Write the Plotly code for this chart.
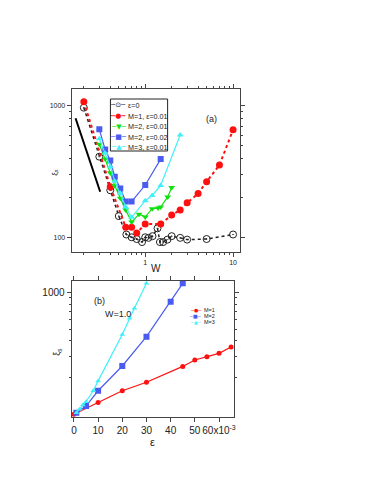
import plotly.graph_objects as go

# ---- panel (a): xi vs W (log-log) ----
w_eps0 = [0.2, 0.3, 0.4, 0.5, 0.61, 0.7, 0.8, 0.92, 1.0, 1.09, 1.21, 1.38, 1.47, 1.6, 1.79, 2.0, 2.5, 3.0, 5.0, 10.0]
xi_eps0 = [970, 411, 228, 145, 105, 100, 97, 92, 100, 99, 102, 117, 92, 92, 96, 102, 99, 96, 97, 105]

w_m1 = [0.2, 0.4, 0.6, 0.7, 0.8, 1.0, 1.5, 2.0, 2.5, 3.0, 4.0, 5.0, 7.0, 10.0]
xi_m1 = [1075, 243, 119, 119, 108, 126, 126, 148, 161, 183, 215, 265, 355, 658]

w_m2a = [0.3, 0.35, 0.4, 0.45, 0.52, 0.6, 0.7, 0.85, 1.0, 1.2, 1.4, 1.5, 1.8, 2.0]
xi_m2a = [511, 394, 310, 247, 198, 161, 131, 150, 143, 165, 167, 170, 203, 239]

w_m2b = [0.3, 0.35, 0.4, 0.45, 0.52, 0.6, 0.7, 1.0, 1.5]
xi_m2b = [664, 465, 385, 289, 235, 187, 187, 250, 394]

w_m3 = [0.3, 0.35, 0.4, 0.45, 0.52, 0.6, 0.7, 1.0, 1.2, 1.5, 2.5]
xi_m3 = [562, 436, 345, 267, 216, 170, 142, 190, 208, 248, 601]

slope_w = [0.161, 0.307]
slope_xi = [806, 222]

# ---- panel (b): xi vs epsilon at W=1.0 ----
eps_m1 = [0, 0.01, 0.02, 0.03, 0.045, 0.05, 0.055, 0.06, 0.065]
xi_b_m1 = [100, 125, 156, 183, 247, 279, 297, 316, 356]

eps_m2 = [0.001, 0.005, 0.01, 0.02, 0.03, 0.04, 0.045]
xi_b_m2 = [103, 117, 156, 249, 433, 837, 1186]

eps_m3 = [0.001, 0.0023, 0.0037, 0.005, 0.008, 0.01, 0.02, 0.023, 0.025, 0.03]
xi_b_m3 = [103, 110, 119, 127, 156, 188, 452, 612, 740, 1186]

eps_ticks = [0, 0.01, 0.02, 0.03, 0.04, 0.05, 0.06]
eps_ticktext = ["0", "10", "20", "30", "40", "50", "60x10<sup>-3</sup>"]

# legend rows
legend_a_labels = ["ε=0", "M=1, ε=0.01", "M=2, ε=0.01", "M=2, ε=0.02", "M=3, ε=0.01"]
legend_b_labels = ["M=1", "M=2", "M=3"]

RED = "#ff1010"
GREEN = "#10e010"
BLUE = "#4a5cf0"
CYAN = "#40f0f8"
BLACK = "#222"
FONT = "Liberation Sans, Arial, sans-serif"
SYMFONT = "DejaVu Sans"

W, H = 382, 494


def px(x):
    return x / W


def py(y):
    return 1 - y / H


fig = go.Figure()

# panel (a)
fig.add_trace(go.Scatter(
    x=slope_w, y=slope_xi, mode="lines", line=dict(color="black", width=2),
    showlegend=False, xaxis="x", yaxis="y"))
fig.add_trace(go.Scatter(
    name=legend_a_labels[0], x=w_eps0, y=xi_eps0, mode="lines+markers",
    line=dict(color=BLACK, width=1.5, dash="dot"),
    marker=dict(symbol="circle-open-dot", size=7, color=BLACK, line=dict(width=1)),
    showlegend=False, xaxis="x", yaxis="y"))
fig.add_trace(go.Scatter(
    name=legend_a_labels[1], x=w_m1, y=xi_m1, mode="lines+markers",
    line=dict(color=RED, width=2, dash="dot"),
    marker=dict(symbol="circle", size=7, color=RED),
    showlegend=False, xaxis="x", yaxis="y"))
fig.add_trace(go.Scatter(
    name=legend_a_labels[2], x=w_m2a, y=xi_m2a, mode="lines+markers",
    line=dict(color=GREEN, width=1.2),
    marker=dict(symbol="triangle-down", size=6, color=GREEN),
    showlegend=False, xaxis="x", yaxis="y"))
fig.add_trace(go.Scatter(
    name=legend_a_labels[3], x=w_m2b, y=xi_m2b, mode="lines+markers",
    line=dict(color=BLUE, width=1.2),
    marker=dict(symbol="square", size=6, color=BLUE),
    showlegend=False, xaxis="x", yaxis="y"))
fig.add_trace(go.Scatter(
    name=legend_a_labels[4], x=w_m3, y=xi_m3, mode="lines+markers",
    line=dict(color=CYAN, width=1.2),
    marker=dict(symbol="triangle-up", size=6, color=CYAN),
    showlegend=False, xaxis="x", yaxis="y"))

# panel (b)
fig.add_trace(go.Scatter(
    name=legend_b_labels[0], x=eps_m1, y=xi_b_m1, mode="lines+markers",
    line=dict(color=RED, width=1.2), marker=dict(symbol="circle", size=5, color=RED),
    showlegend=False, xaxis="x2", yaxis="y2"))
fig.add_trace(go.Scatter(
    name=legend_b_labels[1], x=eps_m2, y=xi_b_m2, mode="lines+markers",
    line=dict(color=BLUE, width=1.2), marker=dict(symbol="square", size=6, color=BLUE),
    showlegend=False, xaxis="x2", yaxis="y2"))
fig.add_trace(go.Scatter(
    name=legend_b_labels[2], x=eps_m3, y=xi_b_m3, mode="lines+markers",
    line=dict(color=CYAN, width=1.2), marker=dict(symbol="triangle-up", size=5, color=CYAN),
    showlegend=False, xaxis="x2", yaxis="y2"))

axis_common = dict(showline=True, linecolor="#444", linewidth=1, mirror="allticks",
                   ticks="outside", tickcolor="#444", showgrid=False, zeroline=False)
minor_common = dict(tickmode="array", ticks="outside", ticklen=2, tickcolor="#444")

annotations = [
    dict(text="(a)", x=px(213), y=py(112), xref="paper", yref="paper",
         showarrow=False, font=dict(size=9)),
    dict(text="slope -2", x=0.212, y=198, xref="x", yref="y", showarrow=False,
         font=dict(size=7)),
    dict(text="W", x=px(157), y=py(268), xref="paper", yref="paper",
         showarrow=False, yanchor="middle", font=dict(size=10)),
    dict(text="ξ<sub>s</sub>", x=px(48), y=py(172), xref="paper", yref="paper",
         showarrow=False, textangle=-90, font=dict(size=8)),
    dict(text="(b)", x=px(92), y=py(301), xref="paper", yref="paper",
         showarrow=False, font=dict(size=9)),
    dict(text="W=1.0", x=px(104), y=py(314), xref="paper", yref="paper",
         showarrow=False, font=dict(size=9)),
    dict(text="ε", x=px(153), y=py(442), xref="paper", yref="paper",
         showarrow=False, yanchor="middle", font=dict(size=11)),
    dict(text="ξ<sub>s</sub>", x=px(50), y=py(358), xref="paper", yref="paper",
         showarrow=False, textangle=-90, font=dict(size=9)),
]

# hand-built legend for (a), compact like the original
legend_a_glyphs = ["┄⊙┄", "┅●┅", "─▼─", "─■─", "─▲─"]
legend_a_colors = [BLACK, RED, GREEN, BLUE, CYAN]
legend_a_rows = [105, 116, 126.5, 137, 147]
for label, glyph, col, yrow in zip(legend_a_labels, legend_a_glyphs, legend_a_colors, legend_a_rows):
    annotations.append(dict(text=glyph, x=px(119.5), y=py(yrow), xref="paper", yref="paper",
                            showarrow=False, xanchor="center", yanchor="middle",
                            font=dict(size=7, color=col, family=SYMFONT)))
    annotations.append(dict(text=label, x=px(127), y=py(yrow), xref="paper", yref="paper",
                            showarrow=False, xanchor="left", yanchor="middle",
                            font=dict(size=7.2, color=BLACK)))

# hand-built legend for (b)
legend_b_glyphs = ["─●─", "─■─", "─▲─"]
legend_b_colors = [RED, BLUE, CYAN]
legend_b_rows = [310, 316, 322.3]
for label, glyph, col, yrow in zip(legend_b_labels, legend_b_glyphs, legend_b_colors, legend_b_rows):
    annotations.append(dict(text=glyph, x=px(196.7), y=py(yrow), xref="paper", yref="paper",
                            showarrow=False, xanchor="center", yanchor="middle",
                            font=dict(size=5, color=col, family=SYMFONT)))
    annotations.append(dict(text=label, x=px(203), y=py(yrow), xref="paper", yref="paper",
                            showarrow=False, xanchor="left", yanchor="middle",
                            font=dict(size=5.5, color=BLACK)))

fig.update_layout(
    width=W, height=H, autosize=False,
    margin=dict(l=0, r=0, t=0, b=0),
    paper_bgcolor="white", plot_bgcolor="white",
    font=dict(family=FONT, color="#222"),
    showlegend=False,
    xaxis=dict(
        axis_common, type="log", range=[-0.838, 1.076], domain=[px(72), px(241)],
        anchor="y", tickmode="array", tickvals=[1, 10], ticktext=["1", "10"],
        ticklen=4, tickfont=dict(size=7), tickangle=0,
        minor=dict(minor_common,
                   tickvals=[0.2, 0.3, 0.4, 0.5, 0.6, 0.7, 0.8, 0.9, 2, 3, 4, 5, 6, 7, 8, 9])),
    yaxis=dict(
        axis_common, type="log", range=[1.888, 3.129], domain=[py(252), py(89)],
        anchor="x", tickmode="array", tickvals=[100, 1000], ticktext=["100", "1000"],
        ticklen=4, tickfont=dict(size=7),
        minor=dict(minor_common, tickvals=[200, 300, 400, 500, 600, 700, 800, 900])),
    xaxis2=dict(
        axis_common, range=[-0.00095, 0.0661], domain=[px(72), px(235)],
        anchor="y2", tickmode="array", tickvals=eps_ticks, ticktext=eps_ticktext,
        ticklen=4, tickfont=dict(size=10), tickangle=0),
    yaxis2=dict(
        axis_common, type="log", range=[1.978, 3.093], domain=[py(417), py(281)],
        anchor="x2", tickmode="array", tickvals=[1000], ticktext=["1000"],
        ticklen=4, tickfont=dict(size=10),
        minor=dict(minor_common, tickvals=[200, 300, 400, 500, 600, 700, 800, 900])),
    shapes=[
        dict(type="rect", xref="paper", yref="paper",
             x0=px(111), x1=px(168.5), y0=py(151), y1=py(99),
             line=dict(color=BLACK, width=1), fillcolor="white", layer="above"),
    ],
    annotations=annotations,
)

fig.write_html("out.html", config={"displayModeBar": False},
               post_script="document.body.style.margin='0';")
